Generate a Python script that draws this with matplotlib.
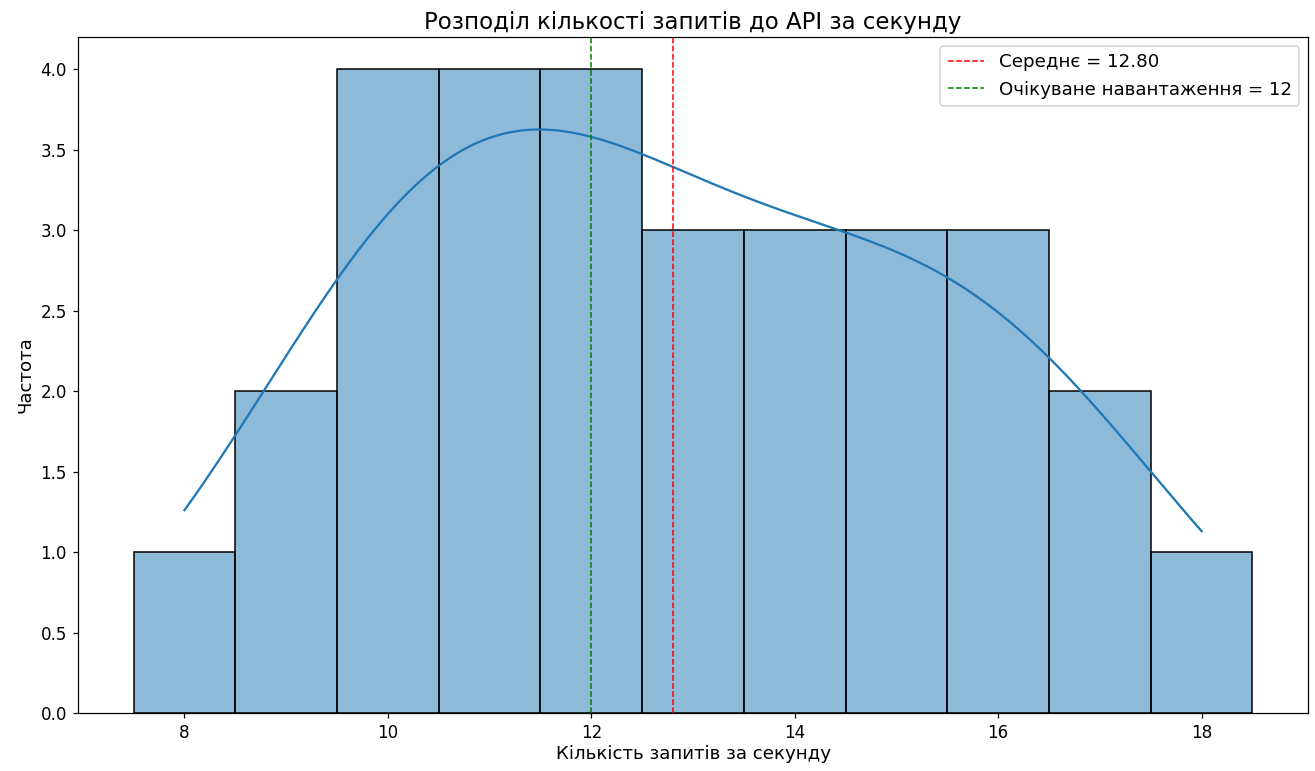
import numpy as np
import pandas as pd
import seaborn as sns
import matplotlib
matplotlib.use("Agg")
import matplotlib.pyplot as plt

# Кількість запитів за секунду та частота кожного значення
values = [8, 9, 10, 11, 12, 13, 14, 15, 16, 17, 18]
counts = [1, 2, 4, 4, 4, 3, 3, 3, 3, 2, 1]
expected = 12

requests = np.repeat(values, counts)
mean_val = requests.mean()

dpi = 109.6
fig, ax = plt.subplots(figsize=(1315 / dpi, 771 / dpi), dpi=dpi)
sns.histplot(requests, discrete=True, kde=True, ax=ax, edgecolor="black")
ax.axvline(mean_val, color="red", linestyle="--", linewidth=1, label=f"Середнє = {mean_val:.2f}")
ax.axvline(expected, color="green", linestyle="--", linewidth=1, label=f"Очікуване навантаження = {expected}")
ax.set_title("Розподіл кількості запитів до API за секунду", fontsize=15, pad=5)
ax.set_xlabel("Кількість запитів за секунду", fontsize=12, labelpad=2)
ax.set_ylabel("Частота", fontsize=12)
ax.tick_params(labelsize=11)
ax.legend(fontsize=12)
fig.subplots_adjust(left=0.059, right=0.995, top=0.952, bottom=0.075)
plt.savefig("out.png", dpi=dpi)
